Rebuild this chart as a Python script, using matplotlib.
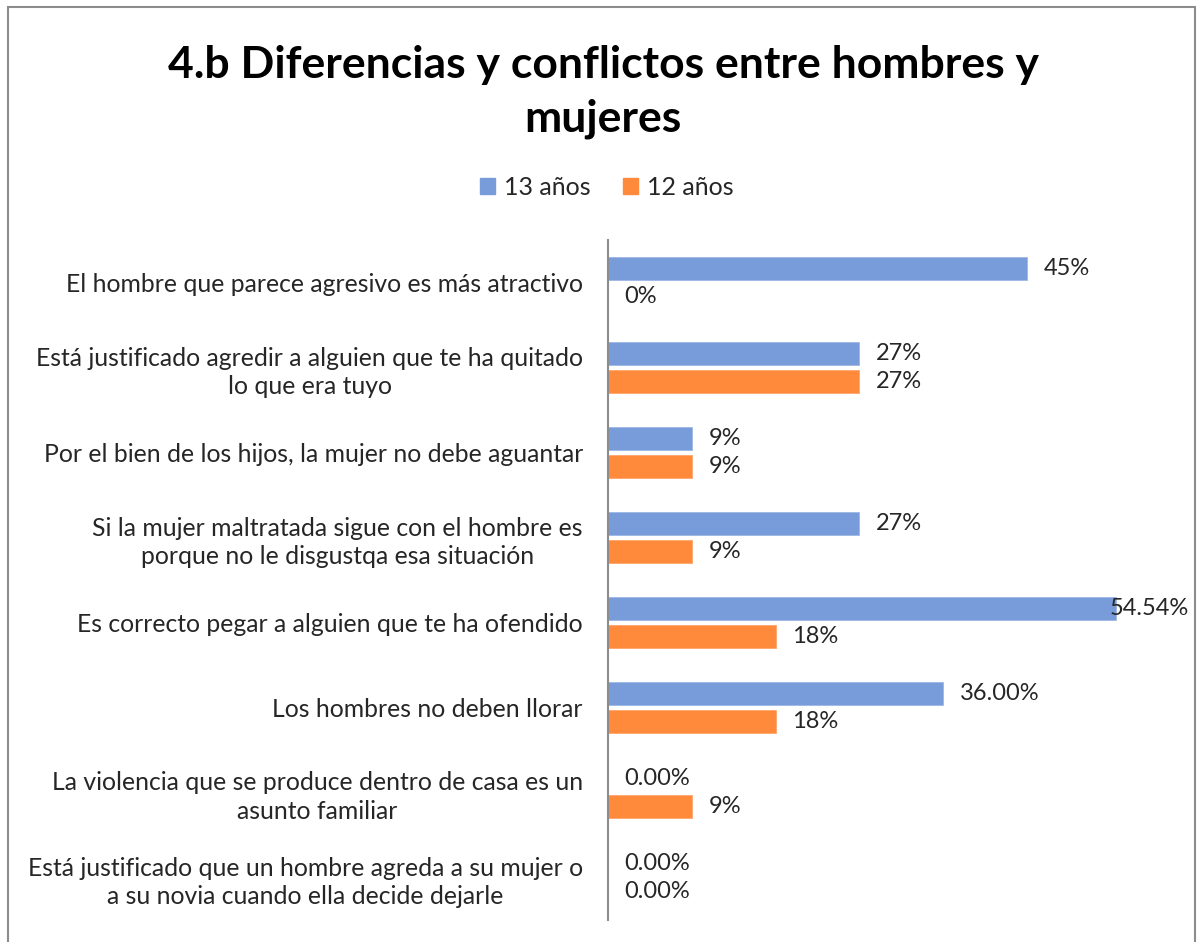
import numpy as np
import matplotlib.pyplot as plt
from matplotlib.patches import Rectangle, Patch

plt.rcParams['font.family'] = ['Lato', 'DejaVu Sans']

###########################
## Data

categories = [
    'El hombre que parece agresivo es más atractivo',
    'Está justificado agredir a alguien que te ha quitado\nlo que era tuyo',
    'Por el bien de los hijos, la mujer no debe aguantar',
    'Si la mujer maltratada sigue con el hombre es\nporque no le disgustqa esa situación',
    'Es correcto pegar a alguien que te ha ofendido',
    'Los hombres no deben llorar',
    'La violencia que se produce dentro de casa es un\nasunto familiar',
    'Está justificado que un hombre agreda a su mujer o\na su novia cuando ella decide dejarle',
]

series_names = ['13 años', '12 años']
vals_13 = [45, 27, 9, 27, 54.54, 36, 0, 0]
vals_12 = [0, 27, 9, 9, 18, 18, 9, 0]
labels_13 = ['45%', '27%', '9%', '27%', '54.54%', '36.00%', '0.00%', '0.00%']
labels_12 = ['0%', '27%', '9%', '9%', '18%', '18%', '9%', '0.00%']

###########################

W, H = 1203, 942
blue = '#779CD9'
orange = '#FF8A3B'
txt_col = '#262626'

fig = plt.figure(figsize=(W / 100, H / 100), dpi=100)

## chart border
fig.add_artist(Rectangle((8 / W, -0.01), (1195 - 8) / W, 1 - 7 / H + 0.01,
                         transform=fig.transFigure, fill=False,
                         edgecolor='#8c8c8c', lw=1.5))

ax = fig.add_axes([608 / W, 22 / H, (1190 - 608) / W, 680 / H])

y = np.arange(len(categories))
bh = 0.27
off = 0.165

ax.barh(y - off, vals_13, height=bh, color=blue, edgecolor='#9db8e6', lw=0.6)
ax.barh(y + off, vals_12, height=bh, color=orange, edgecolor='#ffa66b', lw=0.6)

xmax = 62.5
ax.set_xlim(0, xmax)
ax.set_ylim(len(categories) - 0.5, -0.5)

## data labels
for vals, labs, dy in [(vals_13, labels_13, -off), (vals_12, labels_12, off)]:
    for i, (v, lab) in enumerate(zip(vals, labs)):
        if v > 50:
            ax.annotate(lab, (xmax, i + dy), xytext=(-1, 0),
                        textcoords='offset points', ha='right', va='center',
                        fontsize=17, color=txt_col)
        else:
            ax.annotate(lab, (v, i + dy), xytext=(12, 0),
                        textcoords='offset points', ha='left', va='center',
                        fontsize=17, color=txt_col)

ax.set_yticks(y)
ax.set_yticklabels(categories, fontsize=17.8, color=txt_col,
                   multialignment='center', linespacing=1.3)
ax.tick_params(axis='y', length=0, pad=18)
ax.set_xticks([])

for s in ['top', 'right', 'bottom']:
    ax.spines[s].set_visible(False)
ax.spines['left'].set_color('#8c8c8c')
ax.spines['left'].set_linewidth(1.5)

## title
fig.text(603 / W, 1 - 92 / H,
         '4.b Diferencias y conflictos entre hombres y\nmujeres',
         ha='center', va='center', fontsize=32, fontweight='bold',
         color='black', linespacing=1.38)

## legend
handles = [Patch(color=blue), Patch(color=orange)]
fig.legend(handles, series_names, loc='center', ncol=2,
           bbox_to_anchor=(607 / W, 1 - 187 / H), frameon=False,
           fontsize=18, handlelength=0.6, handleheight=0.6,
           handletextpad=0.35, columnspacing=1.3, labelcolor=txt_col)

fig.savefig('out.png', dpi=100)
